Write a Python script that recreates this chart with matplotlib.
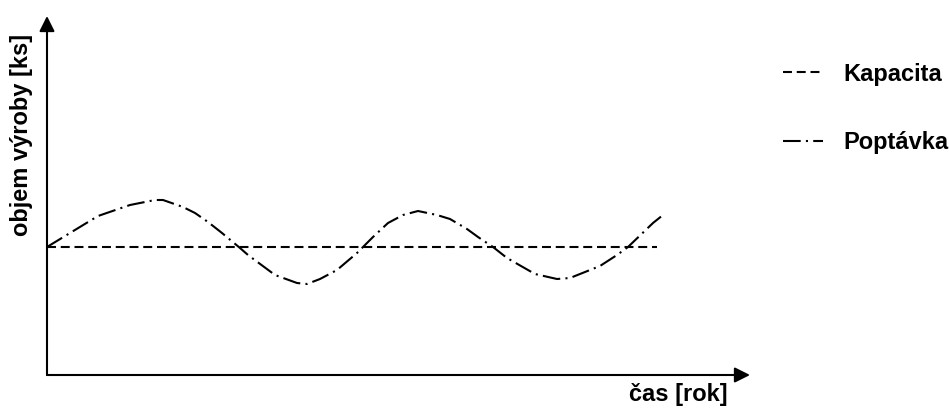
import matplotlib
matplotlib.use('Agg')
import matplotlib.pyplot as plt

plt.rcParams['font.family'] = ['Liberation Sans', 'DejaVu Sans']

# time axis (arbitrary units) and values
cas = [0.0, 2.3, 5.1, 8.3, 10.8, 11.6, 13.6, 14.8, 16.1, 17.5, 19.3, 20.1,
       22.8, 25.0, 26.0, 27.3, 29.0, 31.0, 31.6, 32.6, 34.1, 35.6, 37.1,
       39.0, 40.3, 42.0, 43.1, 44.6, 46.0, 48.1, 48.8, 51.0, 52.3, 55.3,
       57.0, 58.1, 60.6, 61.6]
poptavka = [12.8, 14.2, 15.9, 17.0, 17.5, 17.5, 16.8, 16.2, 15.3, 14.2, 12.7,
            12.0, 10.0, 9.2, 9.1, 9.6, 10.5, 12.2, 12.8, 13.8, 15.2, 16.0,
            16.4, 16.0, 15.6, 14.6, 13.8, 12.8, 11.7, 10.5, 10.1, 9.6, 9.7,
            10.9, 12.0, 12.8, 15.2, 16.0]
kapacita_cas = [0.0, 61.0]
kapacita = [12.8, 12.8]

x_max = 70.3
y_max = 35.9
fs = 17

fig = plt.figure(figsize=(9.49, 4.09), dpi=100)
ax = fig.add_axes([47 / 949, 34 / 409, 703 / 949, 359 / 409])
ax.set_xlim(0, x_max)
ax.set_ylim(0, y_max)
for s in ax.spines.values():
    s.set_visible(False)
ax.set_xticks([])
ax.set_yticks([])

ax.plot(kapacita_cas, kapacita, color='black', lw=1.5, dashes=(4.3, 2.3),
        label='Kapacita')
ax.plot(cas, poptavka, color='black', lw=1.5, dashes=(8.5, 2.5, 1, 2.5),
        label='Poptávka')

# axes with arrows
arrow = dict(arrowstyle='-|>', lw=1.5, color='black', mutation_scale=23,
             shrinkA=0, shrinkB=0)
ax.annotate('', xy=(1, 0), xytext=(0, 0), xycoords='axes fraction', arrowprops=arrow)
ax.annotate('', xy=(0, 1), xytext=(0, 0), xycoords='axes fraction', arrowprops=arrow)

ax.text(-0.0356, 0.6685, 'objem výroby [ks]', transform=ax.transAxes, rotation=90,
        ha='center', va='center', fontsize=fs, fontweight='bold')
ax.text(0.9687, -0.0557, 'čas [rok]', transform=ax.transAxes,
        ha='right', va='center', fontsize=fs, fontweight='bold')

leg = fig.legend(loc='upper left', bbox_to_anchor=(783 / 949, 1 - 62.6 / 409),
                 frameon=False, borderpad=0, borderaxespad=0,
                 handlelength=1.69, handletextpad=0.85, labelspacing=1.92,
                 prop={'size': fs, 'weight': 'bold'})

fig.savefig('out.png', dpi=100)
